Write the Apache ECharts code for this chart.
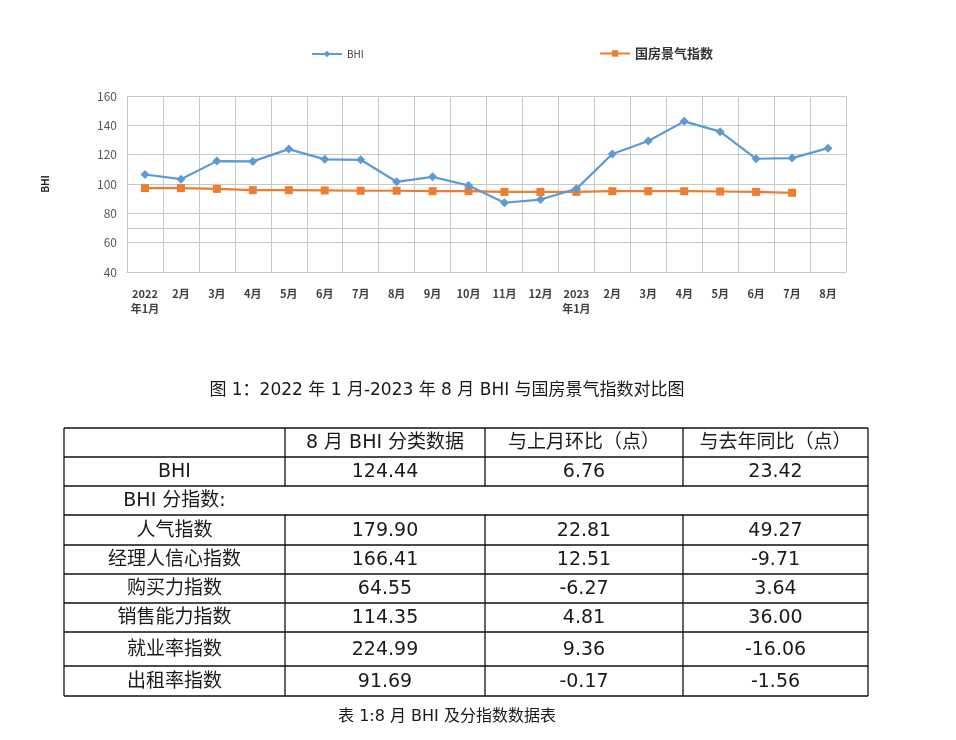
<!DOCTYPE html>
<html><head><meta charset="utf-8">
<script src="https://cdn.jsdelivr.net/npm/echarts@6/dist/echarts.min.js"></script>
<style>html,body{margin:0;padding:0;background:#fff}#c{width:956px;height:740px}</style>
</head><body><div id="c"></div>
<script>
// ---- data ----
const months = ['2022\n年1月','2月','3月','4月','5月','6月','7月','8月','9月','10月','11月','12月','2023\n年1月','2月','3月','4月','5月','6月','7月','8月'];
const bhi = [106.5,103.3,115.6,115.4,123.8,116.8,116.5,101.5,104.9,99.0,87.2,89.4,96.7,120.4,129.3,142.7,135.7,117.2,117.68,124.44];
const guofang = [97.2,97.2,96.7,95.8,95.8,95.6,95.4,95.4,95.1,95.1,94.6,94.6,94.6,95.1,95.1,95.1,94.9,94.6,94.0,null];
const seriesNames = ['BHI','国房景气指数'];
const chartCaption = '图 1：2022 年 1 月-2023 年 8 月 BHI 与国房景气指数对比图';
const tableCaption = '表 1:8 月 BHI 及分指数数据表';
const tableHeader = ['', '8 月 BHI 分类数据', '与上月环比（点）', '与去年同比（点）'];
const rowNames = ['BHI','BHI 分指数:','人气指数','经理人信心指数','购买力指数','销售能力指数','就业率指数','出租率指数'];
const augValues = ['124.44', null, '179.90','166.41','64.55','114.35','224.99','91.69'];
const momValues = ['6.76', null, '22.81','12.51','-6.27','4.81','9.36','-0.17'];
const yoyValues = ['23.42', null, '49.27','-9.71','3.64','36.00','-16.06','-1.56'];

// ---- layout (not data) ----
const rowY = [428,457,486,515,545,574,603,632,666,696];
const colX = [64,285,485,683,868];
const FONT = '"Noto Sans CJK SC", "Noto Sans", sans-serif';
const TFONT = '"DejaVu Sans", "Noto Sans CJK SC", sans-serif';
const gridColor = '#c9c9c9';

const g = [];
const lineStyle = {stroke:'#111', lineWidth:1.3};
function hline(y,x1,x2){ g.push({type:'line',shape:{x1:x1,y1:y,x2:x2,y2:y},style:lineStyle,silent:true}); }
function vline(x,y1,y2){ g.push({type:'line',shape:{x1:x,y1:y1,x2:x,y2:y2},style:lineStyle,silent:true}); }
rowY.forEach(y=>hline(y,colX[0],colX[4]));
vline(colX[0],rowY[0],rowY[rowY.length-1]);
vline(colX[4],rowY[0],rowY[rowY.length-1]);
for (let c=1;c<4;c++){
  vline(colX[c], rowY[0], rowY[2]);
  vline(colX[c], rowY[3], rowY[rowY.length-1]);
}
function cellText(txt, c, r){
  g.push({type:'text', silent:true,
    style:{text:txt, x:(colX[c]+colX[c+1])/2, y:(rowY[r]+rowY[r+1])/2+1, textAlign:'center', textVerticalAlign:'middle',
      font:'normal 19px '+TFONT, fill:'#1a1a1a'}});
}
tableHeader.forEach((t,c)=>{ if(t) cellText(t,c,0); });
rowNames.forEach((n,i)=>{
  const r=i+1;
  cellText(n,0,r);
  if(augValues[i]!==null) cellText(augValues[i],1,r);
  if(momValues[i]!==null) cellText(momValues[i],2,r);
  if(yoyValues[i]!==null) cellText(yoyValues[i],3,r);
});
g.push({type:'text',silent:true,style:{text:chartCaption,x:447,y:391,textAlign:'center',textVerticalAlign:'middle',font:'normal 17px '+TFONT,fill:'#1a1a1a'}});
g.push({type:'text',silent:true,style:{text:tableCaption,x:447,y:717,textAlign:'center',textVerticalAlign:'middle',font:'normal 16px '+TFONT,fill:'#1a1a1a'}});

const chart = echarts.init(document.getElementById('c'), null, {renderer:'canvas'});
chart.setOption({
  animation:false,
  backgroundColor:'#fff',
  textStyle:{fontFamily:FONT},
  legend:[
    {data:[seriesNames[0]], left:306, top:44, itemWidth:30, itemHeight:8, itemGap:6, textStyle:{fontSize:10, color:'#404040'}},
    {data:[seriesNames[1]], left:594, top:42, itemWidth:30, itemHeight:8, textStyle:{fontSize:13, color:'#333', fontWeight:'bold'}}
  ],
  grid:{left:127, right:110, top:96, bottom:468, containLabel:false},
  xAxis:{type:'category', data:months, boundaryGap:true,
    axisLine:{lineStyle:{color:gridColor}}, axisTick:{show:false},
    splitLine:{show:true, lineStyle:{color:gridColor, width:1}},
    axisLabel:{interval:0, color:'#404040', fontSize:11, margin:14, lineHeight:15, fontWeight:'bold'}},
  yAxis:{type:'value', min:40, max:160, interval:20, name:'BHI', nameLocation:'middle', nameGap:77, nameRotate:90,
    nameTextStyle:{fontSize:10, fontWeight:'bold', color:'#222'},
    axisLine:{show:false}, axisTick:{show:false},
    splitLine:{lineStyle:{color:gridColor, width:1}},
    axisLabel:{color:'#595959', fontSize:12, margin:10}},
  series:[
    {name:seriesNames[0], type:'line', data:bhi, symbol:'diamond', symbolSize:9,
      itemStyle:{color:'#5b9bd5'}, lineStyle:{color:'#5b9bd5', width:2.2}, z:3,
      markLine:{silent:true, symbol:'none', label:{show:false}, lineStyle:{color:gridColor, type:'solid', width:1}, data:[{yAxis:70}], z:1}},
    {name:seriesNames[1], type:'line', data:guofang, symbol:'rect', symbolSize:8,
      itemStyle:{color:'#ed7d31'}, lineStyle:{color:'#ed7d31', width:2.2}, z:2}
  ],
  graphic:g
});
</script></body></html>
